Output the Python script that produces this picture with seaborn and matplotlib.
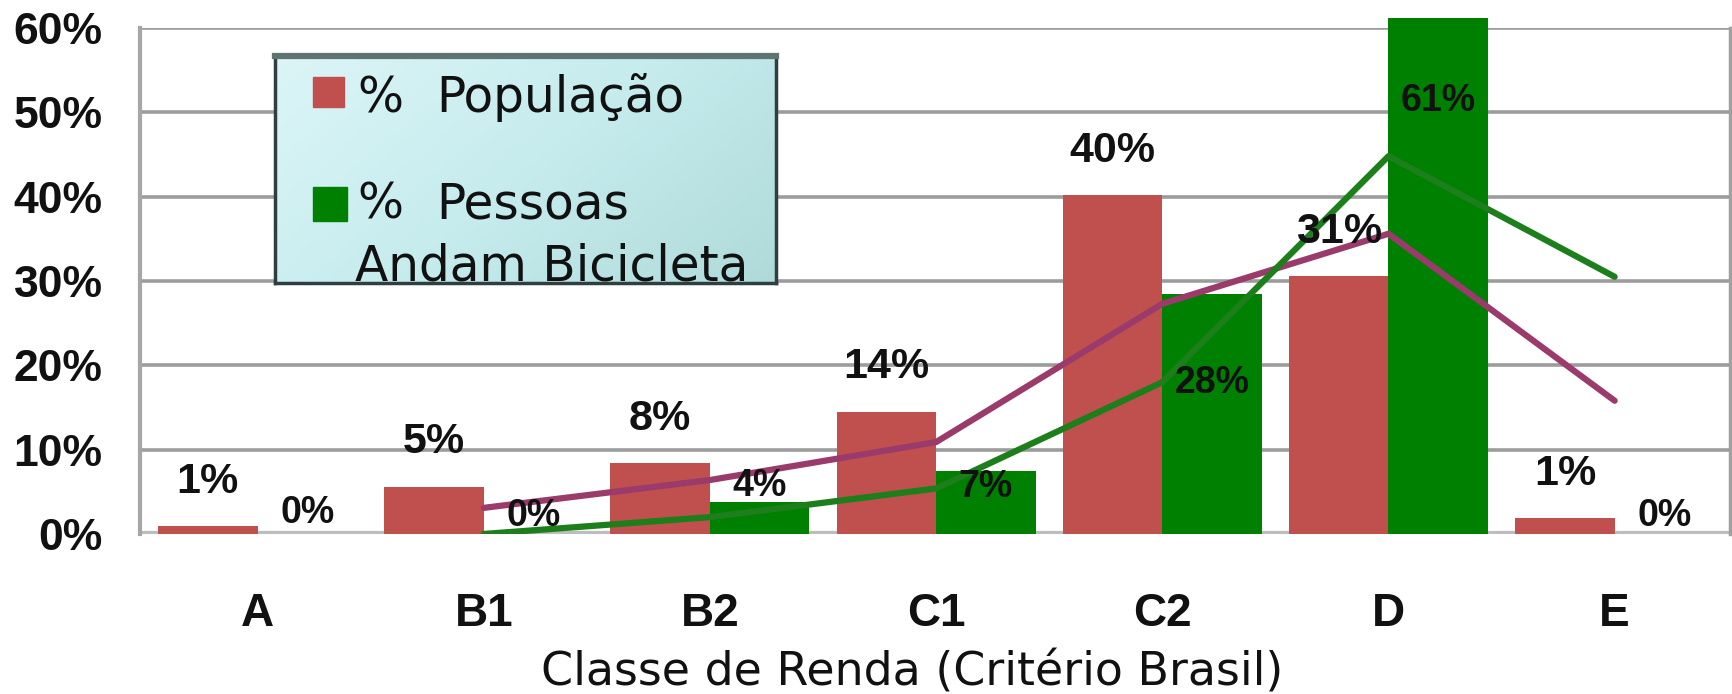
import numpy as np
import pandas as pd
import matplotlib.pyplot as plt
import seaborn as sns
from matplotlib.colors import LinearSegmentedColormap
from matplotlib.patches import Rectangle

# Data
classes = ["A", "B1", "B2", "C1", "C2", "D", "E"]
pop_pct = [0.95, 5.6, 8.4, 14.5, 40.2, 30.6, 1.9]
bike_pct = [0.0, 0.0, 3.8, 7.5, 28.4, 61.2, 0.0]
pop_labels = ["1%", "5%", "8%", "14%", "40%", "31%", "1%"]
bike_labels = ["0%", "0%", "4%", "7%", "28%", "61%", "0%"]

# trend lines (start at B1)
trend_classes = ["B1", "B2", "C1", "C2", "D", "E"]
pop_trend = [3.1, 6.4, 10.9, 27.3, 35.6, 15.8]
bike_trend = [0.0, 2.0, 5.4, 18.0, 44.8, 30.5]

yticks = [0, 10, 20, 30, 40, 50, 60]
series_names = ["% População", "% Pessoas Andam Bicicleta"]

RED = "#c0504d"
GREEN = "#008000"
PURPLE = "#9a3b6c"
LINE_GREEN = "#1c7f1c"

# label offsets (points, baseline relative to bar top)
pop_label_off = [24, 24, 24, 24, 24, 24, 24]
bike_label_off = [8, 6, 4, -19, -71, -67, 6]

sns.set_style("white")
plt.rcParams["font.family"] = ["Liberation Sans", "DejaVu Sans"]

df = pd.DataFrame({
    "classe": classes * 2,
    "pct": pop_pct + bike_pct,
    "serie": [series_names[0]] * len(classes) + [series_names[1]] * len(classes),
})

W, H = 1733, 694
fig = plt.figure(figsize=(W / 100, H / 100), dpi=100)
ax = fig.add_axes([140 / W, 160 / H, 1590 / W, 506 / H])

sns.barplot(data=df, x="classe", y="pct", hue="serie", order=classes,
            hue_order=series_names, palette=[RED, GREEN], width=0.88,
            saturation=1, gap=0, legend=False, ax=ax, zorder=2,
            linewidth=0, edgecolor="none")
for p in ax.patches:
    p.set_clip_on(False)

# trend lines
xs = [classes.index(c) for c in trend_classes]
sns.lineplot(x=xs, y=pop_trend, color=PURPLE, lw=4.5, ax=ax, zorder=4)
sns.lineplot(x=xs, y=bike_trend, color=LINE_GREEN, lw=4.5, ax=ax, zorder=4)

# data labels
for cont, texts, offs, size in zip(ax.containers, [pop_labels, bike_labels],
                                   [pop_label_off, bike_label_off], [31, 27]):
    bars = sorted(cont, key=lambda b: b.get_x())
    for bar, txt, off in zip(bars, texts, offs):
        ax.annotate(txt, (bar.get_x() + bar.get_width() / 2, bar.get_height()),
                    xytext=(0, off), textcoords="offset points", ha="center",
                    va="baseline", fontsize=size, fontweight="bold",
                    color="#111111", annotation_clip=False, zorder=5)

ax.set_xlim(-0.52, 6.51)
ax.set_ylim(0, 60)
ax.set_yticks(yticks)
ax.set_yticklabels([f"{v}%" for v in yticks])
ax.yaxis.grid(True, color="#9c9c9c", lw=2.6)
ax.set_axisbelow(True)
ax.axhline(0, color="#bdbdbd", lw=4.5, zorder=1.5)

ax.tick_params(axis="y", length=11, width=2.5, color="#a6a6a6", pad=16, labelsize=32)
ax.tick_params(axis="x", length=0, pad=42, labelsize=33)
for lab in ax.get_yticklabels() + ax.get_xticklabels():
    lab.set_fontweight("bold")
    lab.set_color("#111111")

ax.set_ylabel("")
ax.set_xlabel("Classe de Renda (Critério Brasil)", fontsize=33,
              family="DejaVu Sans", color="#111111")
ax.xaxis.set_label_coords((912 - 140) / 1590, (534 - 650) / 506)

for s in ["top", "bottom"]:
    ax.spines[s].set_visible(False)
ax.spines["left"].set_color("#a6a6a6")
ax.spines["left"].set_linewidth(3)
ax.spines["right"].set_color("#a0a0a0")
ax.spines["right"].set_linewidth(2.5)

# legend box
lx0, ly0, lw_, lh_ = 275, 56, 501, 227
lax = fig.add_axes([lx0 / W, (H - ly0 - lh_) / H, lw_ / W, lh_ / H], zorder=10)
gx, gy = np.meshgrid(np.linspace(0, 1, 200), np.linspace(0, 1, 100))
cmap = LinearSegmentedColormap.from_list("leg", ["#dcf5f7", "#c6ecee", "#b0dada"])
lax.imshow(0.65 * gx + 0.35 * gy, extent=[0, 1, 0, 1], aspect="auto", cmap=cmap, origin="upper")
lax.set_xlim(0, 1)
lax.set_ylim(0, 1)
lax.set_xticks([])
lax.set_yticks([])
for s in lax.spines.values():
    s.set_color("#2f3f3f")
    s.set_linewidth(2.5)
lax.spines["top"].set_color("#5f7373")
lax.spines["top"].set_linewidth(4.5)


def lp(px, py):
    return (px - lx0) / lw_, (ly0 + lh_ - py) / lh_


for (x0, y0, x1, y1), col in [((313, 77, 344, 107), RED), ((313, 187, 347, 221), GREEN)]:
    bx, by = lp(x0, y1)
    lax.add_patch(Rectangle((bx, by), (x1 - x0) / lw_, (y1 - y0) / lh_, color=col))

leg_font = dict(fontsize=35, family="DejaVu Sans", color="#111111", va="baseline", ha="left")
lax.text(*lp(357, 112), "%", **leg_font)
lax.text(*lp(436, 112), "População", **leg_font)
lax.text(*lp(357, 218), "%", **leg_font)
lax.text(*lp(436, 218), "Pessoas", **leg_font)
lax.text(*lp(355, 280), "Andam Bicicleta", **leg_font)

fig.savefig("out.png", dpi=100)
